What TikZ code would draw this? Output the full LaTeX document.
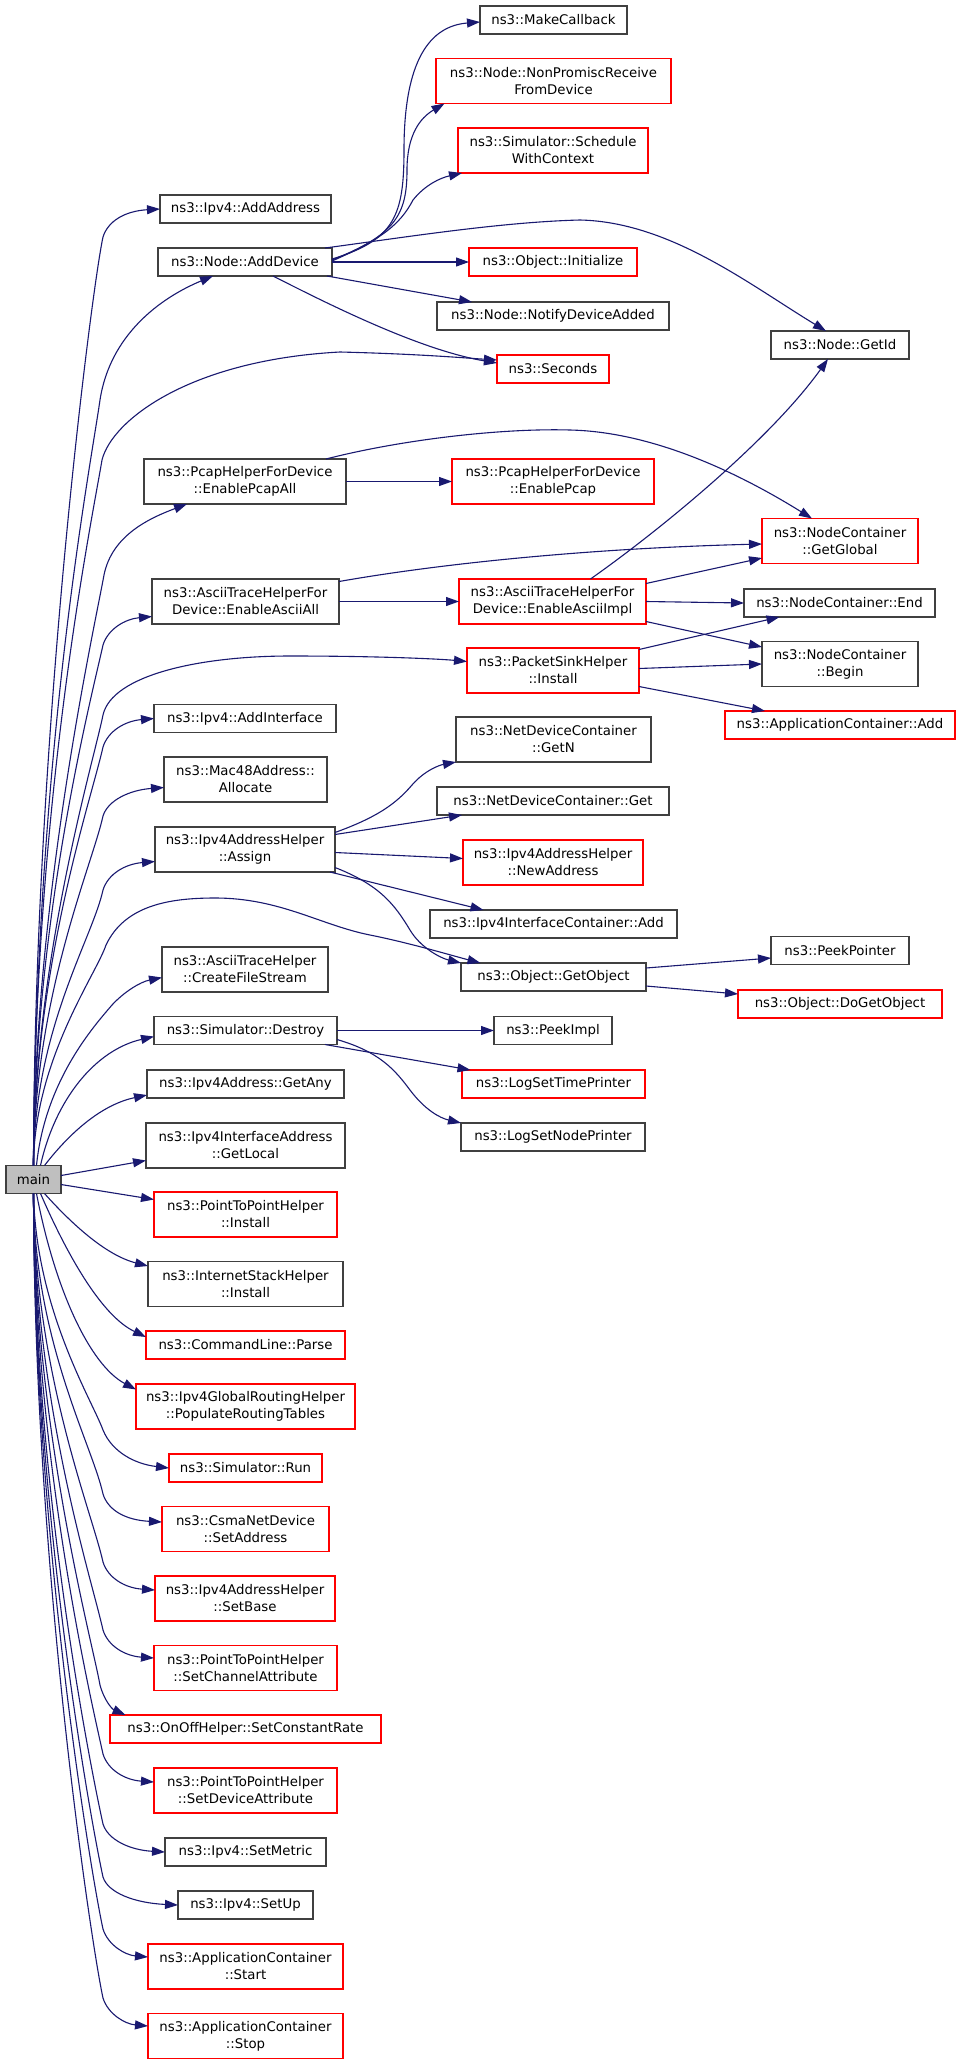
\documentclass[tikz,border=0pt]{standalone}
\usepackage{fontspec}
\setmainfont{DejaVu Sans}
\usetikzlibrary{arrows.meta}

\definecolor{navyline}{HTML}{191970}
\definecolor{boxgray}{HTML}{404040}
\newcommand{\fnfont}{\fontsize{13.3}{17}\selectfont}

\tikzset{
  fn/.style={draw=boxgray, line width=1.2pt, inner sep=0pt, outer sep=0pt, align=center, font=\fnfont},
  fnred/.style={fn, draw=red},
  boxw/.style={minimum width=#1},
  oneline/.style={minimum height=28pt},
  twoline/.style={minimum height=45pt},
  callarrow/.style={draw=navyline, line width=1.1pt, -{Triangle[length=13pt,width=9pt]}}
}

\begin{document}
\begin{tikzpicture}[x=1pt,y=-1pt]

% 背景
\fill[white] (0,0) rectangle (960,2064);

% 主函数
\node[fn, fill=black!25, boxw=55pt, oneline] (main) at (33.5,1179.5) {main};

% 左列函数
\node[fn, boxw=171pt, oneline] (addaddr) at (245.5,209) {ns3::Ipv4::AddAddress};
\node[fn, boxw=174pt, oneline] (adddev) at (245,262) {ns3::Node::AddDevice};
\node[fn, boxw=202pt, twoline] (pcapall) at (245,481.5) {ns3::PcapHelperForDevice\\::EnablePcapAll};
\node[fn, boxw=187pt, twoline] (asciiall) at (245.5,601.5) {ns3::AsciiTraceHelperFor\\Device::EnableAsciiAll};
\node[fn, boxw=182pt, oneline] (addif) at (245,718.5) {ns3::Ipv4::AddInterface};
\node[fn, boxw=163pt, twoline] (alloc) at (245.5,779.5) {ns3::Mac48Address::\\Allocate};
\node[fn, boxw=180pt, twoline] (assign) at (245,849.5) {ns3::Ipv4AddressHelper\\::Assign};
\node[fn, boxw=166pt, twoline] (createfs) at (245,969.5) {ns3::AsciiTraceHelper\\::CreateFileStream};
\node[fn, boxw=183pt, oneline] (destroy) at (245.5,1030.5) {ns3::Simulator::Destroy};
\node[fn, boxw=197pt, oneline] (getany) at (245.5,1084) {ns3::Ipv4Address::GetAny};
\node[fn, boxw=199pt, twoline] (getlocal) at (245.5,1145.5) {ns3::Ipv4InterfaceAddress\\::GetLocal};
\node[fnred, boxw=183pt, twoline] (p2pinst) at (245.5,1214.5) {ns3::PointToPointHelper\\::Install};
\node[fn, boxw=195pt, twoline] (inetinst) at (245.5,1284) {ns3::InternetStackHelper\\::Install};
\node[fnred, boxw=199pt, oneline] (parse) at (245.5,1345) {ns3::CommandLine::Parse};
\node[fnred, boxw=219pt, twoline] (routing) at (245.5,1406.5) {ns3::Ipv4GlobalRoutingHelper\\::PopulateRoutingTables};
\node[fnred, boxw=153pt, oneline] (run) at (245.5,1468) {ns3::Simulator::Run};
\node[fnred, boxw=167pt, twoline] (setaddr) at (245.5,1529) {ns3::CsmaNetDevice\\::SetAddress};
\node[fnred, boxw=180pt, twoline] (setbase) at (245,1598.5) {ns3::Ipv4AddressHelper\\::SetBase};
\node[fnred, boxw=183pt, twoline] (setchan) at (245.5,1668) {ns3::PointToPointHelper\\::SetChannelAttribute};
\node[fnred, boxw=271pt, oneline] (setrate) at (245.5,1729) {ns3::OnOffHelper::SetConstantRate};
\node[fnred, boxw=183pt, twoline] (setdev) at (245.5,1790.5) {ns3::PointToPointHelper\\::SetDeviceAttribute};
\node[fn, boxw=161pt, oneline] (setmetric) at (245.5,1852) {ns3::Ipv4::SetMetric};
\node[fn, boxw=135pt, oneline] (setup) at (245.5,1905) {ns3::Ipv4::SetUp};
\node[fnred, boxw=195pt, twoline] (appstart) at (245.5,1966.5) {ns3::ApplicationContainer\\::Start};
\node[fnred, boxw=195pt, twoline] (appstop) at (245.5,2036) {ns3::ApplicationContainer\\::Stop};

% 中列函数
\node[fn, boxw=147pt, oneline] (makecb) at (553.5,20) {ns3::MakeCallback};
\node[fnred, boxw=235pt, twoline] (nonpromisc) at (553.5,81) {ns3::Node::NonPromiscReceive\\FromDevice};
\node[fnred, boxw=190pt, twoline] (schedule) at (553,150.5) {ns3::Simulator::Schedule\\WithContext};
\node[fnred, boxw=168pt, oneline] (initialize) at (553,262) {ns3::Object::Initialize};
\node[fn, boxw=232pt, oneline] (notify) at (553,316) {ns3::Node::NotifyDeviceAdded};
\node[fnred, boxw=112pt, oneline] (seconds) at (553,369) {ns3::Seconds};
\node[fnred, boxw=202pt, twoline] (pcap) at (553,481.5) {ns3::PcapHelperForDevice\\::EnablePcap};
\node[fnred, boxw=187pt, twoline] (asciiimpl) at (552.5,601.5) {ns3::AsciiTraceHelperFor\\Device::EnableAsciiImpl};
\node[fnred, boxw=172pt, twoline] (sinkinst) at (553,670.5) {ns3::PacketSinkHelper\\::Install};
\node[fn, boxw=195pt, twoline] (getn) at (553.5,739.5) {ns3::NetDeviceContainer\\::GetN};
\node[fn, boxw=232pt, oneline] (ndcget) at (553,801) {ns3::NetDeviceContainer::Get};
\node[fnred, boxw=180pt, twoline] (newaddr) at (553,862.5) {ns3::Ipv4AddressHelper\\::NewAddress};
\node[fn, boxw=247pt, oneline] (ifcadd) at (553.5,924) {ns3::Ipv4InterfaceContainer::Add};
\node[fn, boxw=185pt, oneline] (getobj) at (553.5,977) {ns3::Object::GetObject};
\node[fn, boxw=118pt, oneline] (peekimpl) at (553,1030.5) {ns3::PeekImpl};
\node[fnred, boxw=183pt, oneline] (timeprinter) at (553.5,1084) {ns3::LogSetTimePrinter};
\node[fn, boxw=184pt, oneline] (nodeprinter) at (553,1137) {ns3::LogSetNodePrinter};

% 右列函数
\node[fn, boxw=138pt, oneline] (getid) at (840,345) {ns3::Node::GetId};
\node[fnred, boxw=156pt, twoline] (getglobal) at (840,541) {ns3::NodeContainer\\::GetGlobal};
\node[fn, boxw=191pt, oneline] (ncend) at (839.5,603) {ns3::NodeContainer::End};
\node[fn, boxw=156pt, twoline] (ncbegin) at (840,664) {ns3::NodeContainer\\::Begin};
\node[fnred, boxw=230pt, oneline] (appadd) at (840,725) {ns3::ApplicationContainer::Add};
\node[fn, boxw=138pt, oneline] (peekptr) at (840,950.5) {ns3::PeekPointer};
\node[fnred, boxw=204pt, oneline] (dogetobj) at (840,1004) {ns3::Object::DoGetObject};

% main 向上的调用
\draw[callarrow] (main.north) .. controls (34,735) and (92,287) .. (103,237) .. controls (108,221) and (125,211) .. (addaddr.west);
\draw[callarrow] (main.north) .. controls (36,750) and (90,470) .. (100,400) .. controls (110,335) and (160,298) .. ([xshift=-32pt]adddev.south);
\draw[callarrow] (main.north) .. controls (34,800) and (92,520) .. (102,460) .. controls (112,420) and (190,360) .. (340,352) .. controls (420,354) and (465,358) .. ([yshift=9pt]seconds.west);
\draw[callarrow] (main.north) .. controls (34,900) and (94,630) .. (104,575) .. controls (112,535) and (150,518) .. ([xshift=-58pt]pcapall.south);
\draw[callarrow] (main.north) .. controls (34,919) and (92,695) .. (103,645) .. controls (108,629) and (125,619) .. ([yshift=-15pt]asciiall.west);
\draw[callarrow] (main.north) .. controls (34,960) and (94,760) .. (103,715) .. controls (112,675) and (200,656) .. (290,656) .. controls (380,656) and (440,659) .. ([yshift=9pt]sinkinst.west);
\draw[callarrow] (main.north) .. controls (34,965) and (92,797) .. (103,747) .. controls (108,731) and (125,721) .. (addif.west);
\draw[callarrow] (main.north) .. controls (34,996) and (92,866) .. (103,816) .. controls (108,800) and (130,790) .. ([yshift=-8pt]alloc.west);
\draw[callarrow] (main.north) .. controls (34,1029) and (92,940) .. (103,890) .. controls (108,874) and (125,864) .. ([yshift=-12pt]assign.west);
\draw[callarrow] (main.north) .. controls (34,1060) and (96,975) .. (106,945) .. controls (125,905) and (170,898) .. (215,898) .. controls (280,898) and (320,925) .. (370,935) .. controls (410,943) and (450,955) .. ([xshift=-73pt]getobj.north);
\draw[callarrow] ([xshift=3pt]main.north) .. controls (45,1080) and (95,1025) .. (112,1005) .. controls (124,992) and (140,982) .. ([yshift=-8pt]createfs.west);
\draw[callarrow] ([xshift=7pt]main.north) .. controls (55,1100) and (95,1050) .. ([yshift=-6pt]destroy.west);
\draw[callarrow] ([xshift=11pt]main.north) .. controls (68,1135) and (100,1105) .. ([yshift=-11pt]getany.west);

% main 向右的调用
\draw[callarrow] ([yshift=4pt]main.east) -- ([yshift=-15pt]getlocal.west);
\draw[callarrow] ([yshift=-5pt]main.east) -- ([yshift=15pt]p2pinst.west);

% main 向下的调用
\draw[callarrow] ([xshift=11pt]main.south) .. controls (70,1222) and (105,1255) .. ([yshift=18pt]inetinst.west);
\draw[callarrow] ([xshift=7pt]main.south) .. controls (65,1250) and (100,1315) .. ([yshift=8pt]parse.west);
\draw[callarrow] ([xshift=3pt]main.south) .. controls (55,1290) and (90,1365) .. ([yshift=17pt]routing.west);
\draw[callarrow] (main.south) .. controls (36,1310) and (92,1400) .. (103,1430) .. controls (112,1452) and (135,1464) .. (run.west);
\draw[callarrow] (main.south) .. controls (34,1341) and (92,1444) .. (103,1494) .. controls (108,1510) and (125,1520) .. ([yshift=7pt]setaddr.west);
\draw[callarrow] (main.south) .. controls (34,1372) and (92,1512) .. (103,1562) .. controls (108,1578) and (125,1588) .. ([yshift=8.5pt]setbase.west);
\draw[callarrow] (main.south) .. controls (34,1402) and (92,1580) .. (103,1630) .. controls (108,1646) and (125,1656) .. ([yshift=10pt]setchan.west);
\draw[callarrow] (main.south) .. controls (34,1428) and (92,1640) .. (100,1685) .. controls (104,1700) and (112,1709) .. ([xshift=-120pt]setrate.north);
\draw[callarrow] (main.south) .. controls (34,1458) and (92,1704) .. (103,1754) .. controls (108,1770) and (125,1780) .. ([yshift=8.5pt]setdev.west);
\draw[callarrow] (main.south) .. controls (34,1490) and (92,1774) .. (103,1824) .. controls (108,1840) and (130,1850) .. (setmetric.west);
\draw[callarrow] (main.south) .. controls (34,1513) and (92,1827) .. (103,1877) .. controls (108,1893) and (135,1903) .. (setup.west);
\draw[callarrow] (main.south) .. controls (34,1537) and (92,1879) .. (103,1929) .. controls (108,1945) and (125,1955) .. ([yshift=9.5pt]appstart.west);
\draw[callarrow] (main.south) .. controls (34,1568) and (92,1948) .. (103,1998) .. controls (108,2014) and (125,2024) .. ([yshift=10pt]appstop.west);

% AddDevice 的调用
\draw[callarrow] ([yshift=3pt]adddev.east) .. controls (395,240) and (404,215) .. (404,150) .. controls (404,60) and (430,26) .. ([yshift=-2pt]makecb.west);
\draw[callarrow] ([yshift=2pt]adddev.east) .. controls (395,235) and (407,215) .. (407,170) .. controls (407,135) and (420,118) .. ([xshift=-109pt]nonpromisc.south);
\draw[callarrow] ([yshift=1pt]adddev.east) .. controls (380,240) and (400,225) .. (413,200) .. controls (425,185) and (440,178) .. ([xshift=-91pt]schedule.south);
\draw[callarrow] ([xshift=80pt]adddev.north) .. controls (400,238) and (500,222) .. (580,220) .. controls (670,222) and (750,285) .. ([xshift=-14pt]getid.north);
\draw[callarrow] (adddev.east) -- (initialize.west);
\draw[callarrow] ([xshift=-5pt]adddev.south east) -- ([xshift=-81pt]notify.north);
\draw[callarrow] ([xshift=28pt]adddev.south) .. controls (330,305) and (420,350) .. ([yshift=6pt]seconds.west);

% Pcap / Ascii 的调用
\draw[callarrow] (pcapall.east) -- (pcap.west);
\draw[callarrow] ([xshift=81pt]pcapall.north) .. controls (400,440) and (500,428) .. (570,430) .. controls (660,432) and (750,480) .. ([xshift=-28pt]getglobal.north);
\draw[callarrow] (asciiall.east) -- (asciiimpl.west);
\draw[callarrow] ([yshift=20pt]asciiall.east) .. controls (450,562) and (600,548) .. ([yshift=-3pt]getglobal.west);
\draw[callarrow] ([xshift=38pt]asciiimpl.north) .. controls (660,530) and (770,440) .. ([xshift=-12pt]getid.south);
\draw[callarrow] ([yshift=18pt]asciiimpl.east) -- ([yshift=-17pt]getglobal.west);
\draw[callarrow] (asciiimpl.east) -- (ncend.west);
\draw[callarrow] ([yshift=-20pt]asciiimpl.east) -- ([yshift=17pt]ncbegin.west);

% PacketSinkHelper 的调用
\draw[callarrow] ([yshift=21pt]sinkinst.east) -- ([xshift=-60pt]ncend.south);
\draw[callarrow] ([yshift=2pt]sinkinst.east) -- (ncbegin.west);
\draw[callarrow] ([yshift=-16pt]sinkinst.east) -- ([xshift=-75pt]appadd.north);

% Assign 的调用
\draw[callarrow] ([yshift=17pt]assign.east) .. controls (375,818) and (395,805) .. (412,785) .. controls (425,770) and (440,765) .. (getn.south west);
\draw[callarrow] ([yshift=15pt]assign.east) -- ([xshift=-91pt]ndcget.south);
\draw[callarrow] ([yshift=-3pt]assign.east) -- ([yshift=4pt]newaddr.west);
\draw[callarrow] ([xshift=-5pt]assign.south east) -- ([xshift=-70pt]ifcadd.north);
\draw[callarrow] ([yshift=-18pt]assign.east) .. controls (380,885) and (395,905) .. (410,930) .. controls (420,947) and (440,958) .. (getobj.north west);

% GetObject 的调用
\draw[callarrow] ([yshift=9pt]getobj.east) -- ([yshift=-7.5pt]peekptr.west);
\draw[callarrow] ([yshift=-9pt]getobj.east) -- ([yshift=10pt]dogetobj.west);

% Destroy 的调用
\draw[callarrow] (destroy.east) -- (peekimpl.west);
\draw[callarrow] ([xshift=-12pt]destroy.south east) -- ([xshift=-83pt]timeprinter.north);
\draw[callarrow] ([yshift=-9pt]destroy.east) .. controls (380,1052) and (395,1070) .. (410,1090) .. controls (425,1110) and (440,1118) .. (nodeprinter.north west);

\end{tikzpicture}
\end{document}
